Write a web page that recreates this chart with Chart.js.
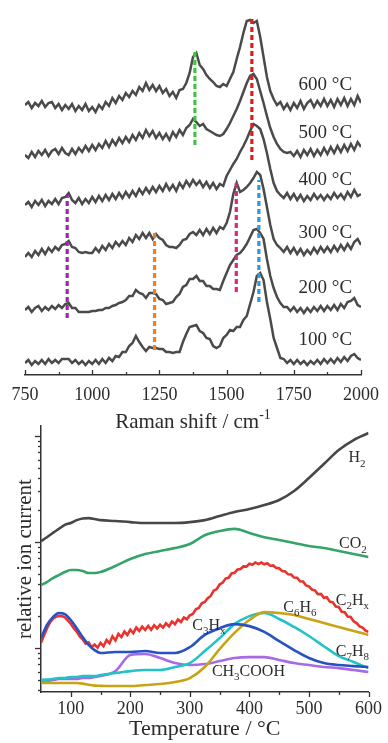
<!DOCTYPE html>
<html><head><meta charset="utf-8">
<script src="https://cdn.jsdelivr.net/npm/chart.js@4.4.1/dist/chart.umd.min.js"></script>
<style>
html,body{margin:0;padding:0;background:#fff;width:388px;height:743px;overflow:hidden}
#top{position:absolute;left:0;top:0}
#bot{position:absolute;left:0;top:420px}
</style></head><body>
<canvas id="top" width="388" height="430"></canvas>
<canvas id="bot" width="388" height="323"></canvas>
<script>
// ---------- DATA: Raman spectra (top panel) ----------
const ramanShift = Array.from({length:101},(_,i)=>750+12.5*i); // cm-1 sampling grid
const ramanTicks = [750,1000,1250,1500,1750,2000];
const ramanMinorTicks = [875,1125,1375,1625,1875];
const spectraNames = ['600 °C','500 °C','400 °C','300 °C','200 °C','100 °C'];
const spec600 = [270,273,267,272,269,274,268,272,273,267, 271,265,270,266,271,264,269,265,271,264,
  268,263,270,266,273,269,277,272,279,275, 282,278,284,280,288,284,292,285,290,284,
  289,282,286,279,283,277,285,286,292,302, 318,322,310,306,300,296,293,289,288,291,
  289,296,303,316,328,342,354,355,352,354, 338,318,298,284,276,270,273,266,271,265,
  272,267,274,266,272,275,268,274,269,276, 269,275,268,276,270,277,269,276,270,279, 272];
const spec500 = [220,217,223,218,224,220,225,219,224,226, 221,227,222,220,226,221,227,223,229,224,
  230,225,231,227,234,228,235,230,237,232, 238,233,240,235,242,237,245,239,244,237,
  242,236,241,235,243,238,245,240,247,250, 256,253,249,251,246,244,242,240,239,241,
  246,252,259,266,274,283,292,299,301,296, 284,272,259,247,238,231,226,223,222,223,
  219,224,218,225,220,226,219,225,220,227, 221,228,222,229,223,230,224,231,225,233, 228];
const spec400 = [170,173,168,174,170,175,169,174,171,176, 171,177,178,182,175,172,177,171,176,172,
  178,173,179,174,180,175,181,176,182,177, 183,178,184,179,186,181,187,182,188,183,
  189,184,191,185,190,184,192,187,194,189, 195,190,194,188,193,187,192,186,191,189,
  199,205,211,216,223,229,236,244,251,249, 246,236,222,206,192,184,180,177,182,176,
  181,175,180,174,179,175,181,176,180,175, 180,176,182,177,181,176,183,178,185,179, 181];
const spec300 = [118,122,118,124,120,126,121,127,123,128, 125,130,131,134,128,127,123,122,123,122,
  122,127,123,129,125,131,127,133,129,134, 130,137,133,140,136,142,137,142,136,141,
  137,135,130,128,128,127,130,135,136,141, 143,140,145,140,146,141,147,142,148,146,
  152,163,181,192,183,185,188,192,197,203, 200,186,168,150,136,130,127,123,128,122,
  127,121,126,120,125,121,127,122,128,123, 128,123,129,124,130,125,131,126,133,136, 130];
const spec200 = [65,68,63,67,69,64,68,65,69,66, 70,67,71,72,67,67,63,63,63,63,
  64,64,65,65,67,67,69,70,72,73, 75,79,79,85,82,81,77,82,82,81,
  76,75,71,72,73,78,81,88,90,96, 96,99,94,94,89,89,86,86,85,94,
  102,110,115,120,122,126,131,138,145,146, 142,136,116,99,87,78,72,68,68,64,
  68,63,67,62,67,63,68,64,69,64, 69,65,70,65,71,67,73,74,77,70, 68];
const spec100 = [12,15,10,14,11,15,11,16,12,15, 12,16,16,16,12,15,11,14,10,14,
  11,15,11,16,12,17,14,19,18,23, 23,29,32,39,33,28,24,28,27,27,
  26,26,23,23,22,23,23,33,41,48, 49,50,44,42,37,36,29,27,29,37,
  40,45,44,48,48,55,59,71,83,99, 102,95,73,56,37,27,17,16,12,15,
  11,15,11,14,10,14,11,15,11,16, 12,16,12,17,13,18,14,19,21,17, 15];
// marker (dashed) lines: band position and vertical extent (intensity units)
const bandShift  = [907,1232,1382,1536,1594,1620];
const bandLow    = [57,25,230,83,215,73];
const bandHigh   = [180,145,323,193,357,195];

// ---------- DATA: TPD ion currents (bottom panel) ----------
const tempTicks = [100,200,300,400,500,600];
const tempMinorTicks = [150,250,350,450,550];
const temps = [50,60,70,80,90,100,110,120,130,140,150,175,200,225,250,275,300,325,350,375,400,425,450,475,500,525,550,575,600];
const h2 = [102,111,122,133,145,151,161,167,168,165,161,158,154,151,151,151,154,161,176,192,205,223,249,303,402,544,738,917,1067];
const co2 = [39.3,41.9,45.7,48.8,52.1,54.4,54.4,53.3,51.0,51.0,52.1,59.4,69.1,77.1,82.3,87.8,95.7,116,127,133,122,111,104.5,97.9,91.7,87.8,82.3,77.1,72.2];
const c3hx = [12.4,16.5,19.6,21.4,20.9,18.4,15.4,12.7,10.7,9.57,8.97,9.17,9.17,9.37,8.97,8.97,10.2,13.3,15.4,16.8,16.1,14.2,11.6,9.57,8.05,7.22,6.91,6.76,6.62];
const ch3cooh = [4.78,4.88,4.99,5.10,5.10,5.10,5.10,5.21,5.21,5.33,5.44,6.06,8.59,8.78,8.05,7.22,6.91,7.06,7.54,8.05,8.22,8.22,7.71,7.22,6.91,6.62,6.47,6.20,5.94];
const c7h8 = [4.99,5.04,5.10,5.21,5.21,5.33,5.33,5.44,5.44,5.44,5.56,5.81,6.06,6.20,6.20,6.62,7.22,9.37,12.4,16.8,20.0,21.4,18.8,15.8,13.0,10.4,8.41,7.38,6.47];
const c6h6 = [4.68,4.68,4.68,4.68,4.68,4.68,4.68,4.62,4.50,4.42,4.40,4.38,4.38,4.48,4.58,4.78,5.21,6.62,9.78,13.9,18.4,21.8,21.4,20.5,18.8,17.2,15.8,14.5,13.3];
const c2hxTemps = Array.from({length:111},(_,i)=>50+5*i);
const c2hx = [11.2,13.1,15.3,17.4,18.9,19.7,20.1,20.0,19.5,18.3, 16.9,15.4,14.3,12.9,12.1,11.0,11.3,10.2,10.8,10.1,
  11.2,10.4,11.9,11.1,12.9,11.8,13.6,12.7,14.3,13.3, 14.9,13.8,15.6,14.5,15.9,14.8,16.2,14.9,16.4,15.3,
  16.6,15.6,17.1,16.0,17.8,16.8,18.6,17.6,19.4,18.7, 20.4,21.0,23.2,23.9,26.4,27.2,29.6,31.0,34.8,35.9,
  39.8,41.3,45.2,46.0,50.5,51.2,55.0,55.6,58.9,58.6, 62.4,61.0,64.2,62.0,64.0,61.6,63.0,59.8,60.2,57.0,
  56.6,53.2,52.8,49.6,49.4,46.2,46.0,42.6,42.4,39.0, 38.2,35.6,35.0,32.2,32.4,29.8,30.2,27.4,27.0,24.6,
  24.4,22.0,21.8,19.8,19.6,17.9,17.2,16.0,15.6,14.6, 14.2];

// ---------- STYLE ----------
const FONT = "'Liberation Serif','Times New Roman',serif";
const INK = '#2b2b2b';
Chart.defaults.font.family = FONT;
Chart.defaults.color = INK;
const traceColor = '#4a4a4a';
const bandColors = ['#9b2aa6','#ea8420','#3cc83c','#d8287c','#d42222','#2d9bd6'];
const pair = (xs, ys) => xs.map((x,i)=>({x, y:ys[i]}));

function drawRuns(ctx, runs, x, y, align, size){
  const big = size+'px '+FONT, small = Math.round(size*0.66)+'px '+FONT;
  let w = 0;
  for (const r of runs){ ctx.font = (r.s||r.u)?small:big; w += ctx.measureText(r.t).width; }
  let cx = align==='right' ? x-w : (align==='center' ? x-w/2 : x);
  ctx.textAlign='left'; ctx.textBaseline='alphabetic';
  for (const r of runs){
    ctx.font = (r.s||r.u)?small:big;
    const dy = r.s ? size*0.26 : (r.u ? -size*0.42 : 0);
    ctx.fillText(r.t, cx, y+dy);
    cx += ctx.measureText(r.t).width;
  }
}

// ---------- TOP CHART ----------
const topDatasets = [];
bandShift.forEach((b,i)=>{
  topDatasets.push({data:[{x:b,y:bandLow[i]},{x:b,y:bandHigh[i]}], borderColor:bandColors[i],
    borderWidth:3.2, borderDash:[5,3], pointRadius:0, order:0});
});
[spec600,spec500,spec400,spec300,spec200,spec100].forEach(s=>{
  topDatasets.push({data:pair(ramanShift,s), borderColor:traceColor, borderWidth:2.5,
    pointRadius:0, tension:0, order:1});
});
const topLabelAnchors = {x:1967, y:[290,242,195,142,87,35]};

const topDecor = {
  id:'topDecor',
  afterDraw(chart){
    const {ctx, chartArea:a, scales:{x,y}} = chart;
    ctx.save();
    ctx.strokeStyle='#333'; ctx.lineWidth=1.3;
    const tick=(v,len)=>{const p=Math.round(x.getPixelForValue(v))+0.5; ctx.beginPath(); ctx.moveTo(p,a.bottom); ctx.lineTo(p,a.bottom-len); ctx.stroke();};
    ramanTicks.forEach(v=>tick(v,5)); ramanMinorTicks.forEach(v=>tick(v,3));
    ctx.fillStyle=INK; ctx.font='19px '+FONT; ctx.textAlign='right'; ctx.textBaseline='middle';
    spectraNames.forEach((n,i)=>ctx.fillText(n, x.getPixelForValue(topLabelAnchors.x), y.getPixelForValue(topLabelAnchors.y[i])));
    drawRuns(ctx, [{t:'Raman shift / cm'},{t:'-1',u:1}], (a.left+a.right)/2, a.bottom+53, 'center', 21);
    ctx.restore();
  }
};

new Chart(document.getElementById('top'), {
  type:'line',
  data:{datasets:topDatasets},
  options:{
    responsive:false, animation:false, events:[],
    layout:{padding:{left:25,right:21,top:10,bottom:0}},
    plugins:{legend:{display:false}, tooltip:{enabled:false}},
    scales:{
      x:{type:'linear', min:750, max:2000, bounds:'data',
        grid:{display:false, drawTicks:false},
        border:{display:true, color:'#333', width:1.5},
        ticks:{autoSkip:false, maxRotation:0, padding:9, color:INK, font:{size:18, family:FONT},
          callback:v=>String(v)},
        afterBuildTicks:s=>{s.ticks = ramanTicks.map(v=>({value:v}));},
        afterFit:s=>{s.height = 55;}
      },
      y:{type:'linear', display:false, min:0, max:365}
    }
  },
  plugins:[topDecor]
});

// ---------- BOTTOM CHART ----------
const speciesColors = {h2:'#474747', co2:'#35a46a', c2hx:'#e8332f', ch3cooh:'#a86ae4', c7h8:'#22c2c6', c6h6:'#c9a316', c3hx:'#2652c4'};
const botDatasets = [
  {data:pair(temps,c3hx), borderColor:speciesColors.c3hx, order:1},
  {data:pair(temps,c6h6), borderColor:speciesColors.c6h6, order:2},
  {data:pair(temps,c7h8), borderColor:speciesColors.c7h8, order:3},
  {data:pair(temps,ch3cooh), borderColor:speciesColors.ch3cooh, order:4},
  {data:pair(c2hxTemps,c2hx), borderColor:speciesColors.c2hx, order:5, tension:0, cubicInterpolationMode:'default'},
  {data:pair(temps,co2), borderColor:speciesColors.co2, order:6},
  {data:pair(temps,h2), borderColor:speciesColors.h2, order:7}
].map(d=>Object.assign({borderWidth:2.6, pointRadius:0, tension:0.4, cubicInterpolationMode:'monotone'}, d));

const speciesLabels = [
  {runs:[{t:'H'},{t:'2',s:1}], x:595, y:634, align:'right'},
  {runs:[{t:'CO'},{t:'2',s:1}], x:597, y:98, align:'right'},
  {runs:[{t:'C'},{t:'2',s:1},{t:'H'},{t:'x',s:1}], x:545, y:29, align:'left'},
  {runs:[{t:'C'},{t:'6',s:1},{t:'H'},{t:'6',s:1}], x:457, y:24.9, align:'left'},
  {runs:[{t:'C'},{t:'3',s:1},{t:'H'},{t:'x',s:1}], x:304, y:16.8, align:'left'},
  {runs:[{t:'C'},{t:'7',s:1},{t:'H'},{t:'8',s:1}], x:545, y:9.57, align:'left'},
  {runs:[{t:'CH'},{t:'3',s:1},{t:'COOH'}], x:337, y:6.2, align:'left'}
];

const botDecor = {
  id:'botDecor',
  afterDraw(chart){
    const {ctx, chartArea:a, scales:{x,y}} = chart;
    ctx.save();
    ctx.strokeStyle='#333'; ctx.lineWidth=1.3;
    const xt=(v,len)=>{const p=Math.round(x.getPixelForValue(v))+0.5; ctx.beginPath(); ctx.moveTo(p,a.bottom); ctx.lineTo(p,a.bottom+len); ctx.stroke();};
    tempTicks.forEach(v=>xt(v,5)); tempMinorTicks.forEach(v=>xt(v,3));
    const yt=(v,len)=>{const p=Math.round(y.getPixelForValue(v))+0.5; ctx.beginPath(); ctx.moveTo(a.left,p); ctx.lineTo(a.left-len,p); ctx.stroke();};
    for (let e=0; e<=3; e++){
      for (let k=1;k<=9;k++){
        const v=k*Math.pow(10,e);
        if (v>=y.min && v<=y.max) yt(v, k===1?6:3);
      }
    }
    ctx.fillStyle=INK;
    speciesLabels.forEach(l=>drawRuns(ctx, l.runs, x.getPixelForValue(l.x), y.getPixelForValue(l.y)+5.5, l.align, 16));
    ctx.restore();
  }
};

new Chart(document.getElementById('bot'), {
  type:'line',
  data:{datasets:botDatasets},
  options:{
    responsive:false, animation:false, events:[],
    layout:{padding:{left:0,right:17,top:6,bottom:0}},
    plugins:{legend:{display:false}, tooltip:{enabled:false}},
    scales:{
      x:{type:'linear', min:50, max:600, bounds:'data',
        grid:{display:false, drawTicks:false},
        border:{display:true, color:'#333', width:1.5},
        ticks:{autoSkip:false, maxRotation:0, padding:6, color:INK, font:{size:18, family:FONT},
          callback:v=>String(v)},
        title:{display:true, text:'Temperature / °C', color:INK, font:{size:22, family:FONT}, padding:{top:0,bottom:1}},
        afterBuildTicks:s=>{s.ticks = tempTicks.map(v=>({value:v}));},
        afterFit:s=>{s.height = 51;}
      },
      y:{type:'logarithmic', min:3.85, max:1243, bounds:'data',
        grid:{display:false, drawTicks:false},
        border:{display:true, color:'#333', width:1.5},
        ticks:{display:false},
        title:{display:true, text:'relative ion current', color:INK, font:{size:21, family:FONT}, padding:{top:13,bottom:0}},
        afterFit:s=>{s.width = 41;}
      }
    }
  },
  plugins:[botDecor]
});
</script></body></html>
